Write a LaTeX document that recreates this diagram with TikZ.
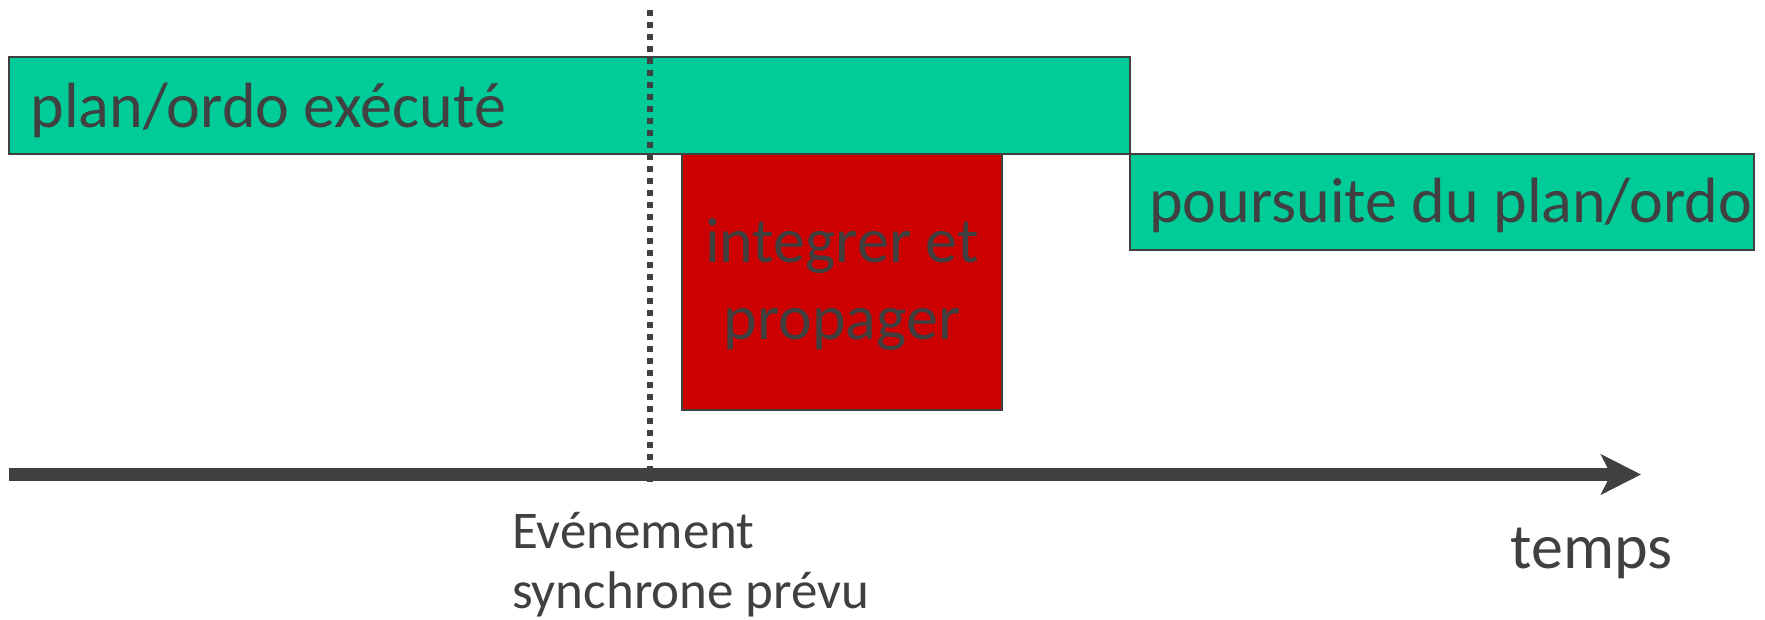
\documentclass[tikz,border=0pt]{standalone}
\usepackage{fontspec}
\setmainfont{Carlito}
\usetikzlibrary{arrows.meta}
\definecolor{ink}{HTML}{404040}
\definecolor{planGreen}{HTML}{00CC99}
\definecolor{alertRed}{HTML}{CC0000}
\tikzset{
  bar/.style={draw=ink, line width=1.5pt, rectangle, inner sep=0pt, anchor=center},
  greenbar/.style={bar, fill=planGreen},
  redbar/.style={bar, fill=alertRed},
  bigtext/.style={text=ink, inner sep=0pt, font=\fontsize{64}{77}\selectfont},
  smalltext/.style={text=ink, inner sep=0pt, font=\fontsize{53}{60}\selectfont},
  axisline/.style={draw=ink, line width=13pt, -{Stealth[length=40pt,width=40pt,inset=10pt]}},
  eventline/.style={draw=ink, line width=6pt, dash pattern=on 6pt off 6pt}
}
\begin{document}
\begin{tikzpicture}[x=1pt,y=-1pt]
  \useasboundingbox (0,0) rectangle (1765,620);

  % schedule bars
  \node[greenbar, minimum width=1121pt, minimum height=97pt] (plan) at (569.5,105.5) {};
  \node[greenbar, minimum width=624pt, minimum height=96pt] (suite) at (1442,202) {};
  \node[redbar, minimum width=320pt, minimum height=256pt] (react) at (842,282) {};

  % bar labels (base anchor of a two-line node sits on its last line)
  \node[bigtext, anchor=base west] (plantxt) at (30.5,127.3) {plan/ordo exécuté};
  \node[bigtext, anchor=base west] (suitetxt) at (1149,223) {poursuite du plan/ordo};
  \node[bigtext, anchor=base, align=center] (reacttxt) at (842,340) {integrer et\\propager};

  % scheduled synchronous event
  \coordinate (ev0) at (650,10);
  \coordinate (ev1) at (650,482);
  \draw[eventline] (ev0) -- (ev1);

  % time axis
  \coordinate (t0) at (9,474.5);
  \coordinate (t1) at (1641,474.5);
  \draw[axisline] (t0) -- (t1);

  % axis labels
  \node[smalltext, anchor=base west, align=left] (evtxt) at (512,608) {Evénement\\synchrone prévu};
  \node[bigtext, anchor=base west] (temps) at (1510.5,568) {temps};
\end{tikzpicture}
\end{document}
